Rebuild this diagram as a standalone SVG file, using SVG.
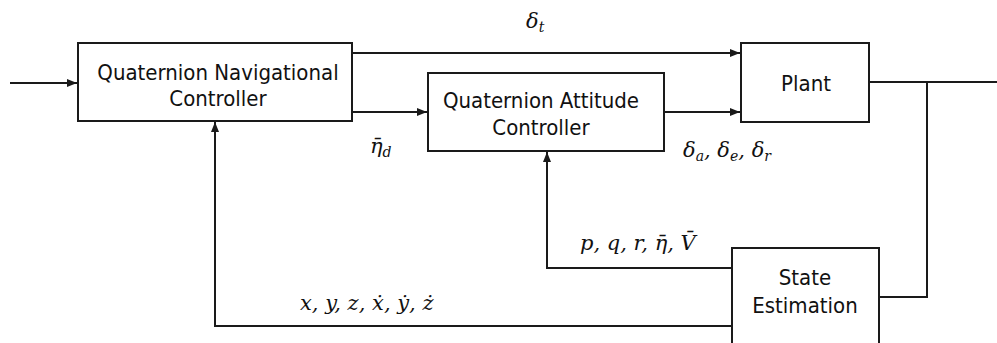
<svg xmlns="http://www.w3.org/2000/svg" width="997" height="343" viewBox="0 0 997 343">
<style>
.box{fill:#fff;stroke:#1a1a1a;stroke-width:2}
.lbl{font-family:"DejaVu Sans Condensed","DejaVu Sans",sans-serif;font-stretch:condensed;font-size:22px;fill:#111;text-anchor:middle}
.wire{fill:none;stroke:#1a1a1a;stroke-width:2}
.math{font-family:"DejaVu Serif","Liberation Serif",serif;font-style:italic;font-size:21px;fill:#111}
.sub{font-size:14px}
</style>
<defs>
<marker id="ah" viewBox="0 0 10 10" refX="10" refY="5" markerWidth="10" markerHeight="10" markerUnits="userSpaceOnUse" orient="auto">
<path d="M0,1 L10,5 L0,9 Z" fill="#1a1a1a"/>
</marker>
</defs>
<rect width="997" height="343" fill="#fff"/>
<g id="connectors">
<path class="wire" d="M10,83 H77" marker-end="url(#ah)"/>
<path class="wire" d="M352,53 H740" marker-end="url(#ah)"/>
<path class="wire" d="M352,112 H427" marker-end="url(#ah)"/>
<path class="wire" d="M664,112 H740" marker-end="url(#ah)"/>
<path class="wire" d="M869,82 H997"/>
<path class="wire" d="M927,82 V297 H879"/>
<path class="wire" d="M732,268 H547 V152" marker-end="url(#ah)"/>
<path class="wire" d="M732,326 H215 V122" marker-end="url(#ah)"/>
</g>
<g id="nav">
<rect class="box" x="78" y="43" width="274" height="78"/>
<text class="lbl" x="218" y="80">Quaternion Navigational</text>
<text class="lbl" x="218" y="106">Controller</text>
</g>
<g id="attitude">
<rect class="box" x="428" y="73" width="236" height="78"/>
<text class="lbl" x="541" y="108">Quaternion Attitude</text>
<text class="lbl" x="541" y="135">Controller</text>
</g>
<g id="plant">
<rect class="box" x="741" y="43" width="128" height="79"/>
<text class="lbl" x="806" y="91">Plant</text>
</g>
<g id="state">
<rect class="box" x="732" y="248" width="147" height="120"/>
<text class="lbl" x="805" y="285">State</text>
<text class="lbl" x="805" y="313">Estimation</text>
</g>
<g id="labels">
<text class="math" x="526" y="28">δ<tspan class="sub" dy="4">t</tspan></text>
<text class="math" x="370" y="153">η̄<tspan class="sub" dy="4">d</tspan></text>
<text class="math" x="683" y="157">δ<tspan class="sub" dy="4">a</tspan><tspan dy="-4">, δ</tspan><tspan class="sub" dy="4">e</tspan><tspan dy="-4">, δ</tspan><tspan class="sub" dy="4">r</tspan></text>
<text class="math" x="580" y="250">p, q, r, η̄, V̄</text>
<text class="math" x="300" y="310">x, y, z, ẋ, ẏ, ż</text>
</g>
</svg>
